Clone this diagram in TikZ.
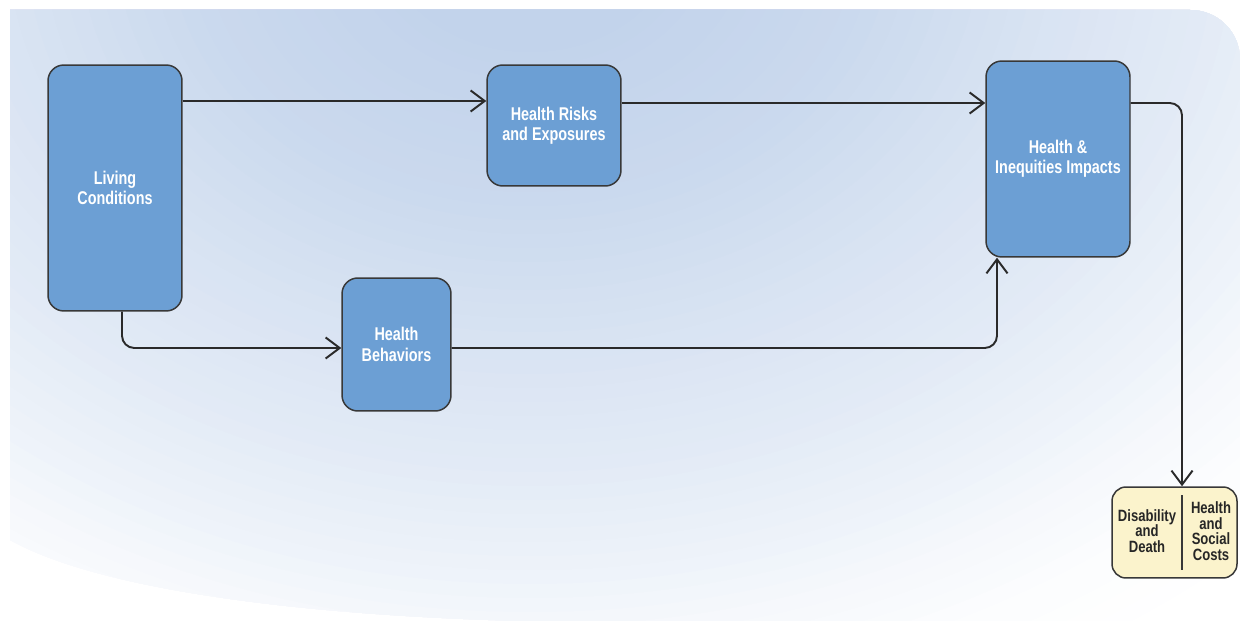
\documentclass[tikz,border=0pt]{standalone}
\usepackage{fontspec}
\newfontfamily\cond[FakeStretch=0.78]{Liberation Sans}
\newfontfamily\condc[FakeStretch=0.8]{Liberation Sans}
\usetikzlibrary{arrows.meta}
\definecolor{bgA}{HTML}{C2D3EB}
\definecolor{boxblue}{HTML}{6C9FD4}
\definecolor{boxedge}{HTML}{383838}
\definecolor{costfill}{HTML}{FBF3CC}
\definecolor{arrowcol}{HTML}{2A2A2A}
\tikzset{
  bluebox/.style={draw=boxedge, line width=0.85pt, fill=boxblue, rounded corners=9pt,
    text=white, align=center, font=\cond\bfseries\fontsize{10.5}{11.5}\selectfont, inner sep=0pt},
  costbox/.style={draw=boxedge, line width=0.85pt, fill=costfill, rounded corners=8pt, inner sep=0pt},
  costtext/.style={align=center, text=black!85, font=\condc\bfseries\fontsize{9.3}{8.9}\selectfont, inner sep=0pt},
  arr/.style={draw=arrowcol, line width=1.1pt, -{Straight Barb[length=8pt,width=12pt]}, rounded corners=7pt}
}
\begin{document}
\begin{tikzpicture}[x=0.02cm,y=-0.02cm]
\useasboundingbox (0,0) rectangle (1240,621);
\begin{scope}
  \clip (10,10) -- (1190,10) .. controls (1218,10) and (1240,32) .. (1240,60) -- (1240,621) -- (520,621)
        .. controls (300,615) and (100,590) .. (10,540) -- cycle;
  \foreach \t in {1.2,1.18,...,0.14} {
    \pgfmathsetmacro\p{ifthenelse(\t<=0.15,100,
      ifthenelse(\t<=0.4,100-60*(\t-0.15),
      ifthenelse(\t<=0.6,85-115*(\t-0.4),
      ifthenelse(\t<=0.75,62-93.3*(\t-0.6),
      ifthenelse(\t<=0.9,48-120*(\t-0.75),
      ifthenelse(\t<=1.0,30-150*(\t-0.9),
      ifthenelse(\t<=1.1,15-100*(\t-1.0),5-50*(\t-1.1))))))))}
    \fill[bgA!\p!white] (530,-60) ellipse [x radius=\t*18cm, y radius=\t*14cm];
  }
\end{scope}

\node[bluebox, minimum width=2.68cm, minimum height=4.92cm] (living) at (115,188) {Living\\Conditions};
\node[bluebox, minimum width=2.68cm, minimum height=2.42cm] (risks) at (554,125.5) {Health Risks\\and Exposures};
\node[bluebox, minimum width=2.18cm, minimum height=2.66cm] (behav) at (396.5,344.5) {Health\\Behaviors};
\node[bluebox, minimum width=2.88cm, minimum height=3.92cm] (impact) at (1058,159) {Health \&\\Inequities Impacts};
\node[costbox, minimum width=2.5cm, minimum height=1.82cm] (costs) at (1174.5,532.5) {};
\node[costtext] (dis) at (1147,531) {Disability\\and\\Death};
\node[costtext] (soc) at (1211,531) {Health\\and\\Social\\Costs};
\coordinate (dtop) at (1182,495);
\coordinate (dbot) at (1182,570);
\draw[draw=boxedge, line width=0.85pt] (dtop) -- (dbot);

\coordinate (r1) at (0,101);
\coordinate (r2) at (0,103);
\coordinate (r3) at (0,348);
\coordinate (c1) at (122,0);
\coordinate (c2) at (997,0);
\coordinate (c3) at (1182,0);

\draw[arr] (living.east |- r1) -- (risks.west |- r1);
\draw[arr] (risks.east |- r2) -- (impact.west |- r2);
\draw[arr] (living.south -| c1) |- (behav.west |- r3);
\draw[arr] (behav.east |- r3) -| (impact.south -| c2);
\draw[arr] (impact.east |- r2) -| (costs.north -| c3);
\end{tikzpicture}
\end{document}
